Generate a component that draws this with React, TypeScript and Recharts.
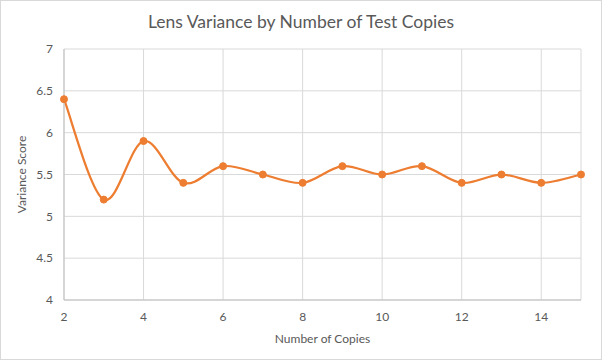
import { LineChart, Line, XAxis, YAxis, CartesianGrid, Label } from 'recharts'

// ─── Data ─────────────────────────────────────────────────────────────────────

const copies = [2, 3, 4, 5, 6, 7, 8, 9, 10, 11, 12, 13, 14, 15]
const varianceScores = [6.4, 5.2, 5.9, 5.4, 5.6, 5.5, 5.4, 5.6, 5.5, 5.6, 5.4, 5.5, 5.4, 5.5]
const xTicks = [2, 4, 6, 8, 10, 12, 14]
const yTicks = [4, 4.5, 5, 5.5, 6, 6.5, 7]

const chartData = copies.map((c, i) => ({ copies: c, score: varianceScores[i] }))

// ─── Excel-like smoothed curve (Catmull-Rom as cubic bezier) ──────────────────

function excelCurve(context: any) {
  let pts: [number, number][] = []
  return {
    areaStart() {},
    areaEnd() {},
    lineStart() { pts = [] },
    lineEnd() {
      if (!pts.length) return
      context.moveTo(pts[0][0], pts[0][1])
      const t = 1 / 6
      for (let i = 0; i < pts.length - 1; i++) {
        const p0 = pts[Math.max(i - 1, 0)]
        const p1 = pts[i]
        const p2 = pts[i + 1]
        const p3 = pts[Math.min(i + 2, pts.length - 1)]
        context.bezierCurveTo(
          p1[0] + (p2[0] - p0[0]) * t, p1[1] + (p2[1] - p0[1]) * t,
          p2[0] - (p3[0] - p1[0]) * t, p2[1] - (p3[1] - p1[1]) * t,
          p2[0], p2[1],
        )
      }
    },
    point(x: number, y: number) { pts.push([+x, +y]) },
  }
}

const FONT = 'Lato, "Open Sans", sans-serif'
const TEXT = '#595959'
const ORANGE = '#ED7D31'

export default function App() {
  return (
    <div style={{
      position: 'fixed', left: 0, top: 0, width: 602, height: 360,
      boxSizing: 'border-box', border: '1px solid #d9d9d9', background: '#fff',
      fontFamily: FONT,
    }}>
      <div style={{
        position: 'absolute', left: 0, right: 0, top: 9, textAlign: 'center',
        fontSize: 17.5, color: TEXT, lineHeight: '24px',
      }}>
        Lens Variance by Number of Test Copies
      </div>
      <LineChart
        width={600}
        height={358}
        data={chartData}
        margin={{ top: 48, right: 20, left: 0, bottom: 0 }}
        style={{ position: 'absolute', left: 0, top: 0 }}
      >
        <CartesianGrid stroke="#d9d9d9" strokeWidth={1} />
        <XAxis
          dataKey="copies"
          type="number"
          domain={[2, 15]}
          ticks={xTicks}
          interval={0}
          height={59}
          tickLine={false}
          tickSize={0}
          tickMargin={12}
          axisLine={{ stroke: '#bfbfbf' }}
          tick={{ fontSize: 12, fill: TEXT, fontFamily: FONT }}
        >
          <Label value="Number of Copies" position="insideBottom" offset={16}
            style={{ fontSize: 12, fill: TEXT, fontFamily: FONT }} />
        </XAxis>
        <YAxis
          type="number"
          domain={[4, 7]}
          ticks={yTicks}
          interval={0}
          width={63}
          tickLine={false}
          tickSize={0}
          tickMargin={11}
          axisLine={{ stroke: '#bfbfbf' }}
          tick={{ fontSize: 12, fill: TEXT, fontFamily: FONT }}
        >
          <Label value="Variance Score" angle={-90} position="insideLeft" offset={21}
            style={{ fontSize: 12, fill: TEXT, fontFamily: FONT, textAnchor: 'middle' }} />
        </YAxis>
        <Line
          type={excelCurve as any}
          dataKey="score"
          stroke={ORANGE}
          strokeWidth={2.25}
          dot={{ r: 3.5, fill: ORANGE, stroke: ORANGE, strokeWidth: 1 }}
          activeDot={false}
          isAnimationActive={false}
        />
      </LineChart>
    </div>
  )
}
